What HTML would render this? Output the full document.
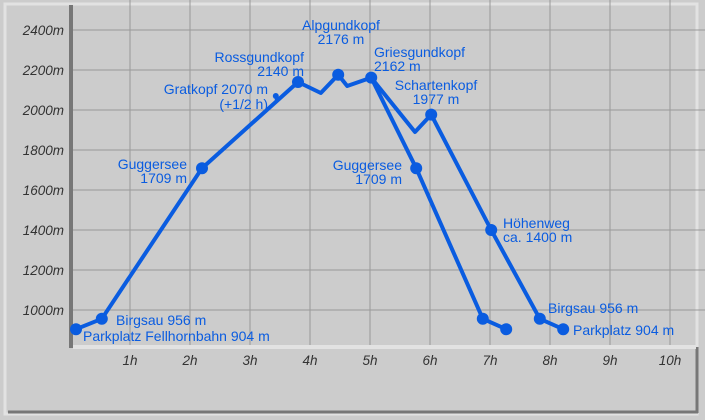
<!DOCTYPE html>
<html><head><meta charset="utf-8"><style>
body{margin:0;background:#ccc;}
svg{display:block;font-family:"Liberation Sans",sans-serif;}
.lbl{fill:#0a5ce0;font-size:14px;}
.tick{fill:#333;font-size:13.5px;font-style:italic;}
</style></head><body>
<svg id="c" width="705" height="420">
<rect width="705" height="420" fill="#ccc"/>
<rect x="5" y="4" width="692" height="410" fill="none" stroke="#e2e2e2" stroke-width="3"/>
<line x1="8" y1="412" x2="698" y2="412" stroke="#777" stroke-width="3"/>
<line x1="697" y1="347" x2="697" y2="413" stroke="#777" stroke-width="3"/>
<g id="grid"></g>
<line x1="71" y1="5" x2="71" y2="348" stroke="#777" stroke-width="4"/>
<line x1="73" y1="347" x2="696" y2="347" stroke="#e2e2e2" stroke-width="4"/>
<g id="series"></g>
<g id="labels">
<text class="lbl" x="116" y="325">Birgsau 956 m</text>
<text class="lbl" x="83" y="341">Parkplatz Fellhornbahn 904 m</text>
<text class="lbl" x="187" y="169" text-anchor="end"><tspan x="187">Guggersee</tspan><tspan x="187" dy="14">1709 m</tspan></text>
<text class="lbl" x="268" y="94" text-anchor="end"><tspan x="268">Gratkopf 2070 m</tspan><tspan x="268" dy="15">(+1/2 h)</tspan></text>
<text class="lbl" x="304" y="62" text-anchor="end"><tspan x="304">Rossgundkopf</tspan><tspan x="304" dy="14">2140 m</tspan></text>
<text class="lbl" x="341" y="30" text-anchor="middle"><tspan x="341">Alpgundkopf</tspan><tspan x="341" dy="14">2176 m</tspan></text>
<text class="lbl" x="374" y="57"><tspan x="374">Griesgundkopf</tspan><tspan x="374" dy="14">2162 m</tspan></text>
<text class="lbl" x="436" y="90" text-anchor="middle"><tspan x="436">Schartenkopf</tspan><tspan x="436" dy="14">1977 m</tspan></text>
<text class="lbl" x="402" y="170" text-anchor="end"><tspan x="402">Guggersee</tspan><tspan x="402" dy="14">1709 m</tspan></text>
<text class="lbl" x="503" y="228"><tspan x="503">Höhenweg</tspan><tspan x="503" dy="14">ca. 1400 m</tspan></text>
<text class="lbl" x="548" y="313">Birgsau 956 m</text>
<text class="lbl" x="573" y="335">Parkplatz 904 m</text>
</g>
</svg>
<script>
const hourTicks=["1h","2h","3h","4h","5h","6h","7h","8h","9h","10h"];
const elevTicks=[1000,1200,1400,1600,1800,2000,2200,2400];
const mainT=[0.1,0.53,2.2,3.8,4.18,4.47,4.62,5.02];
const mainV=[904,956,1709,2140,2085,2176,2120,2162];
const mainDots=[1,1,1,1,0,1,0,1];
const branchAT=[5.02,5.77,6.88,7.27];
const branchAV=[2162,1709,956,904];
const branchADots=[0,1,1,1];
const branchBT=[5.02,5.75,6.02,7.02,7.83,8.22];
const branchBV=[2162,1890,1977,1400,956,904];
const branchBDots=[0,0,1,1,1,1];
const gratT=[3.43],gratV=[2070];
const xs=t=>70+60*t, ys=v=>30+(2400-v)*0.2;
const NS="http://www.w3.org/2000/svg";
const grid=document.getElementById('grid'),ser=document.getElementById('series'),svg=document.getElementById('c');
function mk(tag,at,p){const e=document.createElementNS(NS,tag);for(const k in at)e.setAttribute(k,at[k]);p.appendChild(e);return e;}
hourTicks.forEach((h,i)=>{const x=xs(i+1);
 const l=mk('line',{x1:x,y1:0,x2:x,y2:345,stroke:'#999','stroke-width':1},grid);
 
 
 const t=mk('text',{x:x,y:365,'text-anchor':'middle',class:'tick'},svg);t.textContent=h;
 
 });
elevTicks.forEach(v=>{const y=ys(v);
 const l=mk('line',{x1:72,y1:y,x2:705,y2:y,stroke:'#999','stroke-width':1},grid);
 
 
 const t=mk('text',{x:64,y:y+5,'text-anchor':'end',class:'tick'},svg);t.textContent=v+'m';
 
 });
function draw(T,V,D,name){
 const p=mk('polyline',{points:T.map((t,i)=>xs(t)+','+ys(V[i])).join(' '),fill:'none',stroke:'#0a5ce0','stroke-width':4,'stroke-linejoin':'round'},ser);
 
 
 T.forEach((t,i)=>{if(!D[i])return;const c=mk('circle',{cx:xs(t),cy:ys(V[i]),r:6,fill:'#0a5ce0'},ser);
  
  });
}
draw(mainT,mainV,mainDots,'ascent');
draw(branchAT,branchAV,branchADots,'descent-guggersee');
draw(branchBT,branchBV,branchBDots,'descent-hoehenweg');
const gx=xs(gratT[0]),gy=ys(gratV[0]);
const gs=mk('line',{x1:gx,y1:gy,x2:gx,y2:gy+6,stroke:'#0a5ce0','stroke-width':2},ser);


const gc=mk('circle',{cx:gx,cy:gy,r:3,fill:'#0a5ce0'},ser);


</script>
</body></html>
